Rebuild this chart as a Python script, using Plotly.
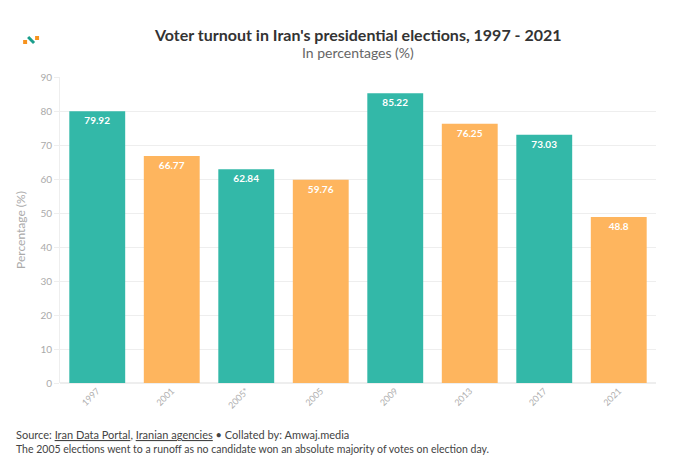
import plotly.graph_objects as go

categories = ["1997", "2001", "2005*", "2005", "2009", "2013", "2017", "2021"]
turnout = [79.92, 66.77, 62.84, 59.76, 85.22, 76.25, 73.03, 48.8]
bar_colors = ["#33b8a8", "#feb55e", "#33b8a8", "#feb55e", "#33b8a8", "#feb55e", "#33b8a8", "#feb55e"]
y_ticks = [0, 10, 20, 30, 40, 50, 60, 70, 80, 90]

FONT = "Lato, 'Open Sans', sans-serif"

# the page body adds an 8px margin, so the figure is drawn 8px smaller and
# all reference pixel positions are shifted by that offset
O = 8
W, H = 700 - 2 * O, 464 - 2 * O
L, T = 58 - O, 77 - O
R = W - (656 - O)
B = H - (383 - O)
PW, PH = W - L - R, H - T - B


def px(x):
    return (x - O - L) / PW


def py(y):
    return (H - B - (y - O)) / PH


fig = go.Figure()
fig.add_trace(go.Bar(
    x=categories, y=turnout,
    marker=dict(color=bar_colors, line=dict(width=0)),
    text=[str(v) for v in turnout],
    textposition="inside", insidetextanchor="end",
    textfont=dict(color="white", size=10, family=FONT, weight="bold"),
    cliponaxis=False,
    hoverinfo="x+y",
))

fig.update_layout(
    width=W, height=H,
    margin=dict(l=L, r=R, t=T, b=B),
    paper_bgcolor="white", plot_bgcolor="white",
    bargap=0.25,
    showlegend=False,
    font=dict(family=FONT, color="#999999"),
    uniformtext=dict(minsize=10, mode="show"),
)
fig.update_xaxes(
    type="category",
    tickangle=-45,
    tickfont=dict(size=9, color="#b0b0b0", family=FONT),
    showline=False, showgrid=False,
    ticks="", ticklen=0,
)
fig.update_yaxes(
    range=[0, 90], tickvals=y_ticks,
    tickfont=dict(size=10, color="#aaaaaa", family=FONT),
    showgrid=True, gridcolor="#eeeeee", gridwidth=1,
    zeroline=True, zerolinecolor="#eeeeee",
    ticks="outside", ticklen=5, tickcolor="#eeeeee",
    showline=True, linecolor="#eeeeee",
    title=dict(text="Percentage (%)", font=dict(size=12, color="#aaaaaa", family=FONT), standoff=12),
)

fig.add_annotation(
    text="<b>Voter turnout in Iran's presidential elections, 1997 - 2021</b>",
    x=px(357), y=py(34), xref="paper", yref="paper",
    xanchor="center", yanchor="middle", showarrow=False,
    font=dict(size=16, color="#333333", family=FONT),
)
fig.add_annotation(
    text="In percentages (%)",
    x=px(357), y=py(52), xref="paper", yref="paper",
    xanchor="center", yanchor="middle", showarrow=False,
    font=dict(size=14, color="#666666", family=FONT),
)
fig.add_annotation(
    text="Source: <span style='text-decoration:underline'>Iran Data Portal</span>, <span style='text-decoration:underline'>Iranian agencies</span> • Collated by: Amwaj.media",
    x=px(12), y=py(434), xref="paper", yref="paper",
    xanchor="left", yanchor="middle", showarrow=False,
    font=dict(size=11, color="#444444", family=FONT),
)
fig.add_annotation(
    text="The 2005 elections went to a runoff as no candidate won an absolute majority of votes on election day.",
    x=px(12), y=py(449), xref="paper", yref="paper",
    xanchor="left", yanchor="middle", showarrow=False,
    font=dict(size=10.5, color="#444444", family=FONT),
)

# small logo mark in the top-left corner
fig.add_shape(type="line", xref="paper", yref="paper",
              x0=px(26), x1=px(32), y0=py(37), y1=py(43),
              line=dict(color="#1a9e8c", width=3))
fig.add_shape(type="rect", xref="paper", yref="paper",
              x0=px(21), x1=px(25), y0=py(44), y1=py(40),
              fillcolor="#f7931e", line=dict(width=0))
fig.add_shape(type="rect", xref="paper", yref="paper",
              x0=px(33), x1=px(37), y0=py(40), y1=py(36),
              fillcolor="#f7931e", line=dict(width=0))

fig.write_html("out.html")
